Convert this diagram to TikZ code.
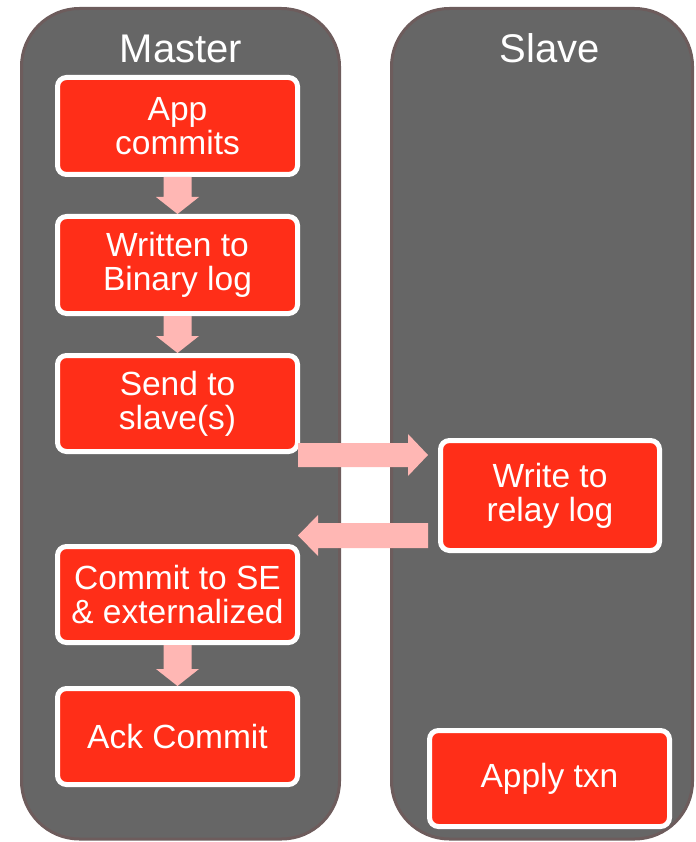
\documentclass[tikz,border=0pt]{standalone}
\usepackage{fontspec}
\setmainfont{Liberation Sans}
\usetikzlibrary{calc}
\definecolor{panelfill}{HTML}{666666}
\definecolor{paneledge}{HTML}{6D5C5C}
\definecolor{boxred}{HTML}{FF2E18}
\definecolor{arrowpink}{HTML}{FFB7B4}
\tikzset{
  panel/.style={fill=panelfill,draw=paneledge,line width=3pt,rounded corners=58pt},
  title/.style={text=white,font=\fontsize{40}{40}\selectfont,anchor=base,inner sep=0pt},
  stepbox/.style={rectangle,rounded corners=9pt,fill=boxred,draw=white,line width=5pt,
    text=white,align=center,font=\fontsize{33.5}{34}\selectfont,inner sep=0pt},
  fatarrow/.style={fill=arrowpink,draw=none},
}
\newcommand\fatdown[2]{%
  \path[fatarrow] let \p1=(#1.south), \p2=(#2.north) in
    (\x1-14pt,\y1) -- (\x1-14pt,\y2+17pt) -- (\x1-21.5pt,\y2+17pt) -- (\x1,\y2)
    -- (\x1+21.5pt,\y2+17pt) -- (\x1+14pt,\y2+17pt) -- (\x1+14pt,\y1) -- cycle;}
\begin{document}
\begin{tikzpicture}[x=1pt,y=-1pt]
\useasboundingbox (0,0) rectangle (695,842);
% panels
\draw[panel] (21.5,8.5) rectangle (339.5,839);
\draw[panel] (391.5,8.5) rectangle (692.5,839);
\node[title] (mtitle) at (181,63) {Master};
\node[title] (stitle) at (550,63) {Slave};
% boxes
\node[stepbox,minimum width=240pt,minimum height=97pt] (b1) at (177.5,126) {App\\commits};
\node[stepbox,minimum width=240pt,minimum height=97pt] (b2) at (177.5,265) {Written to\\Binary log};
\node[stepbox,minimum width=240pt,minimum height=96pt] (b3) at (177.5,403.5) {Send to\\slave(s)};
\node[stepbox,minimum width=240pt,minimum height=96pt] (b4) at (177.5,594.5) {Commit to SE\\\& externalized};
\node[stepbox,minimum width=240pt,minimum height=96pt] (b5) at (177.5,736.5) {Ack Commit};
\node[stepbox,minimum width=219pt,minimum height=110pt] (s1) at (550,495.5) {Write to\\relay log};
\node[stepbox,minimum width=240pt,minimum height=96pt] (s2) at (549.5,778.5) {Apply txn};
% vertical arrows
\fatdown{b1}{b2}
\fatdown{b2}{b3}
\fatdown{b4}{b5}
% horizontal arrows
\path[fatarrow] let \p1=(b3.east), \p2=(s1.west), \p3=(0,455) in
  (\x1-2pt,\y3+12pt) -- (\x2-30pt,\y3+12pt) -- (\x2-30pt,\y3+21pt) -- (\x2-10pt,\y3)
  -- (\x2-30pt,\y3-21pt) -- (\x2-30pt,\y3-12pt) -- (\x1-2pt,\y3-12pt) -- cycle;
\path[fatarrow] let \p1=(s1.west), \p2=(b3.east), \p3=(0,535.5) in
  (\x1-10pt,\y3+12.5pt) -- (\x2+18pt,\y3+12.5pt) -- (\x2+18pt,\y3+20.5pt) -- (\x2-2pt,\y3)
  -- (\x2+18pt,\y3-20.5pt) -- (\x2+18pt,\y3-12.5pt) -- (\x1-10pt,\y3-12.5pt) -- cycle;
\end{tikzpicture}
\end{document}
